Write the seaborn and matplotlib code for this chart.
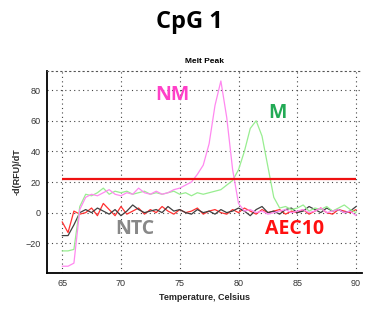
import pandas as pd
import seaborn as sns
import matplotlib.pyplot as plt
from matplotlib.ticker import MultipleLocator

# temperature grid (Celsius)
temperature = [65.0, 65.5, 66.0, 66.5, 67.0, 67.5, 68.0, 68.5, 69.0, 69.5,
               70.0, 70.5, 71.0, 71.5, 72.0, 72.5, 73.0, 73.5, 74.0, 74.5,
               75.0, 75.5, 76.0, 76.5, 77.0, 77.5, 78.0, 78.5, 79.0, 79.5,
               80.0, 80.5, 81.0, 81.5, 82.0, 82.5, 83.0, 83.5, 84.0, 84.5,
               85.0, 85.5, 86.0, 86.5, 87.0, 87.5, 88.0, 88.5, 89.0, 89.5, 90.0]

nm = [-35, -35, -33, 2, 10, 12, 11, 13, 15, 12,
      11, 13, 12, 16, 13, 12, 14, 12, 13, 15,
      16, 18, 20, 25, 31, 45, 70, 86, 62, 28,
      6, 1, 2, 0, 1, -1, 0, 1, 2, 0,
      1, 2, 0, 1, 3, 0, 1, 2, 0, 1, -2]

m = [-25, -25, -24, 4, 12, 11, 13, 16, 12, 14,
     13, 14, 12, 13, 14, 12, 13, 12, 13, 14,
     12, 13, 11, 13, 12, 13, 14, 15, 18, 21,
     28, 40, 55, 60, 50, 30, 10, 3, 4, 2,
     3, 5, 1, 3, 2, 4, 1, 3, 5, 2, 0]

ntc = [-15, -15, -8, 0, 2, 0, 3, 1, -1, 2,
       -2, 1, 5, 2, 0, 1, 2, 0, 4, 1,
       2, 0, -1, 2, 0, 1, -1, 2, 0, 1,
       3, 1, -2, 2, 4, 0, 1, -1, 2, 3,
       0, 1, 4, 2, 0, 3, 1, 2, 0, 1, 4]

aec10 = [-6, -13, 1, -1, 0, 3, -2, 6, 2, -2,
         4, -1, 1, 3, -1, 2, 0, 4, 1, -1,
         2, 0, 1, 3, -1, 1, 2, 0, -1, 2,
         0, 3, 1, -1, 2, 0, 1, 2, -1, 1,
         0, 2, -1, 1, 3, 0, -1, 2, 1, 0, 2]

threshold = 22

series = {'NM': nm, 'M': m, 'NTC': ntc, 'AEC10': aec10}
colors = {'NM': '#ff88f0', 'M': '#98ee90', 'NTC': '#404040', 'AEC10': '#ff3030'}

rows = []
for name, vals in series.items():
    for t, v in zip(temperature, vals):
        rows.append({'Temperature': t, 'value': v, 'sample': name})
df = pd.DataFrame(rows)

sns.set_style('white')
plt.rcParams['font.family'] = ['Liberation Sans', 'DejaVu Sans']
plt.rcParams['text.color'] = 'black'

fig = plt.figure(figsize=(3.72, 3.10), dpi=100)
ax = fig.add_axes([0.126, 0.119, 0.847, 0.652])

sns.lineplot(data=df, x='Temperature', y='value', hue='sample',
             palette=colors, linewidth=0.9, legend=False, ax=ax,
             hue_order=['AEC10', 'NTC', 'M', 'NM'])
ax.hlines(threshold, 65, 90, color='#ee1111', linewidth=1.6, zorder=5)

ax.set_xlim(63.7, 90.5)
ax.set_ylim(-39.5, 92.5)
ax.xaxis.set_major_locator(MultipleLocator(5))
ax.xaxis.set_minor_locator(MultipleLocator(1))
ax.yaxis.set_major_locator(MultipleLocator(20))
ax.yaxis.set_minor_locator(MultipleLocator(5))
ax.tick_params(which='major', direction='inout', length=5, width=0.9,
               labelsize=6.5, pad=2, labelcolor='#333333')
ax.tick_params(which='minor', direction='inout', length=3, width=0.8)
ax.grid(True, which='major', linestyle=(0, (1, 3)), color='#444444', linewidth=0.8)

for side in ['left', 'bottom']:
    ax.spines[side].set_linewidth(1.3)
    ax.spines[side].set_color('black')
ax.spines['right'].set_visible(False)
ax.spines['top'].set_linestyle((0, (1, 3)))
ax.spines['top'].set_color('#555555')

ax.set_xlabel('Temperature, Celsius', fontsize=6.5, fontweight='bold', labelpad=3)
ax.set_ylabel('-d(RFU)/dT', fontsize=6.5, fontweight='bold', labelpad=3)
ax.set_title('Melt Peak', fontsize=6, fontweight='bold', pad=6)
fig.text(0.51, 0.93, 'CpG 1', fontsize=17, fontweight='bold', color='black',
         ha='center', va='center', family=['Open Sans', 'DejaVu Sans'])

label_font = dict(fontsize=14, fontweight='bold', family=['Open Sans', 'DejaVu Sans'])
ax.text(74.4, 77, 'NM', color='#ff40c8', ha='center', va='center', **label_font)
ax.text(83.3, 65, 'M', color='#22aa55', ha='center', va='center', **label_font)
ax.text(71.2, -11, 'NTC', color='#888888', ha='center', va='center', **label_font)
ax.text(84.8, -11, 'AEC10', color='#ff1010', ha='center', va='center', **label_font)

fig.savefig('out.png', dpi=100)
